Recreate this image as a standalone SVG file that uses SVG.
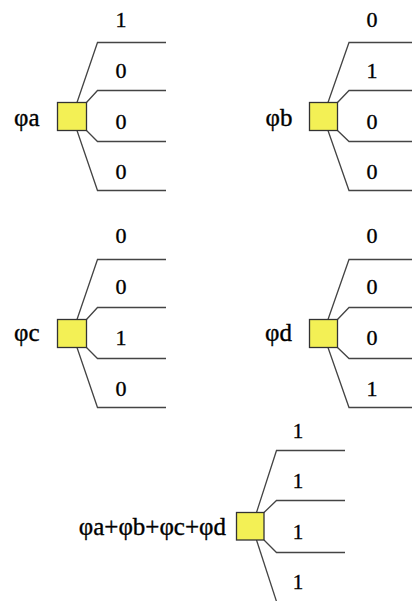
<svg xmlns="http://www.w3.org/2000/svg" width="412" height="601" viewBox="0 0 412 601">
  <style>
    .box { fill: #f3f055; stroke: #333333; stroke-width: 1.3; }
    .branch { fill: none; stroke: #444444; stroke-width: 1.3; stroke-linejoin: miter; }
    .name, .val { font-family: "Liberation Serif", "Times New Roman", serif; fill: #000000; stroke: #000000; stroke-width: 0.35; }
    .name { font-size: 25px; text-anchor: end; }
    .val { font-size: 22px; text-anchor: middle; }
    .sum .val { font-size: 21px; }
  </style>
  <rect width="412" height="601" fill="#ffffff"/>

  <!-- branch lines fanning out of each box -->
  <g id="connectors">
    <!-- phi a -->
    <polyline class="branch" points="77,102.5 97.5,42.5 166,42.5"/>
    <polyline class="branch" points="86.5,102.5 97.5,90.5 166,90.5"/>
    <polyline class="branch" points="86.5,130.5 97.5,141.5 166,141.5"/>
    <polyline class="branch" points="77,130.5 97.5,190.5 166,190.5"/>
    <!-- phi b -->
    <polyline class="branch" points="328,102.5 349,42.5 412,42.5"/>
    <polyline class="branch" points="337.5,102.5 349,90.5 412,90.5"/>
    <polyline class="branch" points="337.5,130.5 349,141.5 412,141.5"/>
    <polyline class="branch" points="328,130.5 349,190.5 412,190.5"/>
    <!-- phi c -->
    <polyline class="branch" points="77,319.5 97.5,259.5 166,259.5"/>
    <polyline class="branch" points="86.5,319.5 97.5,307.5 166,307.5"/>
    <polyline class="branch" points="86.5,347.5 97.5,358.5 166,358.5"/>
    <polyline class="branch" points="77,347.5 97.5,407.5 166,407.5"/>
    <!-- phi d -->
    <polyline class="branch" points="328,319.5 349,259.5 412,259.5"/>
    <polyline class="branch" points="337.5,319.5 349,307.5 412,307.5"/>
    <polyline class="branch" points="337.5,347.5 349,358.5 412,358.5"/>
    <polyline class="branch" points="328,347.5 349,407.5 412,407.5"/>
    <!-- sum -->
    <polyline class="branch" points="256.5,512.5 276.5,450.5 345,450.5"/>
    <polyline class="branch" points="264,512.5 276.5,500.5 345,500.5"/>
    <polyline class="branch" points="264,540 276.5,552.5 345,552.5"/>
    <polyline class="branch" points="256.5,540 277,603"/>
  </g>

  <g id="node-phi-a">
    <rect class="box" x="57.5" y="102.5" width="29" height="28"/>
    <text class="name" x="39.5" y="126">φa</text>
    <text class="val" x="121" y="27">1</text>
    <text class="val" x="121" y="77.5">0</text>
    <text class="val" x="121" y="129">0</text>
    <text class="val" x="121" y="178.5">0</text>
  </g>

  <g id="node-phi-b">
    <rect class="box" x="309.5" y="102.5" width="28" height="28"/>
    <text class="name" x="292.5" y="126">φb</text>
    <text class="val" x="372" y="27">0</text>
    <text class="val" x="372" y="77.5">1</text>
    <text class="val" x="372" y="129">0</text>
    <text class="val" x="372" y="178.5">0</text>
  </g>

  <g id="node-phi-c">
    <rect class="box" x="57.5" y="319.5" width="29" height="28"/>
    <text class="name" x="39.5" y="341">φc</text>
    <text class="val" x="121" y="243">0</text>
    <text class="val" x="121" y="293.5">0</text>
    <text class="val" x="121" y="345">1</text>
    <text class="val" x="121" y="395.5">0</text>
  </g>

  <g id="node-phi-d">
    <rect class="box" x="309.5" y="319.5" width="28" height="28"/>
    <text class="name" x="292" y="341">φd</text>
    <text class="val" x="372" y="243">0</text>
    <text class="val" x="372" y="293.5">0</text>
    <text class="val" x="372" y="345">0</text>
    <text class="val" x="372" y="395.5">1</text>
  </g>

  <g id="node-sum" class="sum">
    <rect class="box" x="236.5" y="512.5" width="27.5" height="27.5"/>
    <text class="name" x="226" y="535">φa+φb+φc+φd</text>
    <text class="val" x="298" y="437.5">1</text>
    <text class="val" x="298" y="488">1</text>
    <text class="val" x="298" y="539">1</text>
    <text class="val" x="298" y="588.5">1</text>
  </g>
</svg>
